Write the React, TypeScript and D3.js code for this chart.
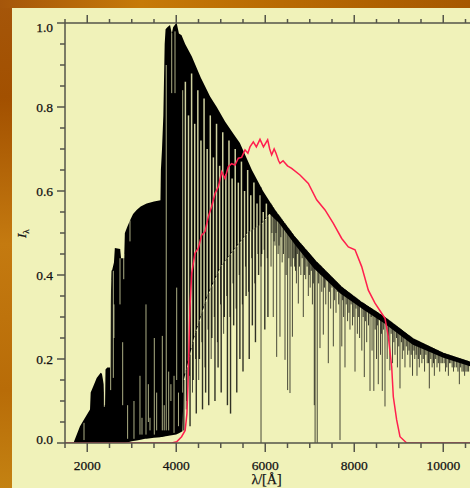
import React from 'react';
import * as d3 from 'd3';

// ---------- data ----------
// upper envelope (continuum top) of the spectrum
const contWl = [1690, 1837, 1950, 2062, 2077, 2136, 2212, 2302, 2330, 2370, 2385, 2400, 2410, 2450, 2515, 2525, 2545, 2560, 2600, 2620, 2740, 2760, 2830, 2845, 2900, 2960, 3030, 3110, 3200, 3335, 3500, 3645, 3655, 3680, 3710, 3740, 3760, 3800, 3860, 3900, 3930, 4000, 4010, 4060, 4120, 4200, 4350, 4550, 4760, 4910, 5100, 5430, 5700, 5950, 6220, 6670, 7120, 7720, 8170, 8690, 9330, 10000, 10600, 11000];
const contFlux = [0, 0.04, 0.06, 0.08, 0.12, 0.135, 0.155, 0.167, 0.165, 0.14, 0.09, 0.09, 0.175, 0.18, 0.18, 0.33, 0.41, 0.412, 0.43, 0.464, 0.462, 0.44, 0.44, 0.5, 0.515, 0.53, 0.545, 0.555, 0.563, 0.57, 0.575, 0.578, 0.65, 0.7, 0.78, 0.95, 0.985, 0.99, 0.995, 0.975, 0.99, 1.0, 1.0, 0.975, 0.971, 0.95, 0.92, 0.87, 0.825, 0.8, 0.765, 0.714, 0.65, 0.6, 0.555, 0.491, 0.436, 0.372, 0.336, 0.3, 0.249, 0.215, 0.194, 0.18];

// lower edge of the solid black part
const floorWl = [1690, 2850, 3000, 3300, 3650, 4000, 4140, 4170, 4400, 4700, 5000, 5300, 5600, 5900, 6100, 6300, 6700, 7100, 7700, 8200, 8700, 9300, 10000, 10600, 11000];
const floorFlux = [0, 0, 0.004, 0.01, 0.014, 0.02, 0.028, 0.15, 0.25, 0.35, 0.42, 0.46, 0.5, 0.52, 0.545, 0.525, 0.468, 0.415, 0.355, 0.318, 0.283, 0.235, 0.203, 0.183, 0.17];

// light gaps inside the dense UV / Balmer part: wavelength, top flux, bottom flux
const gapWl = [1927, 2384, 2526, 2586, 2600, 2736, 2796, 2820, 2907, 2960, 3050, 3185, 3230, 3320, 3373, 3410, 3507, 3560, 3687, 3730, 3775, 3830, 3880, 3898, 3950, 3972, 4010, 4050, 4145];
const gapTop = [0.048, 0.158, 0.388, 0.41, 0.33, 0.44, 0.24, 0.45, 0.09, 0.53, 0.1, 0.16, 0.06, 0.33, 0.14, 0.06, 0.25, 0.12, 0.255, 0.09, 0.9, 0.17, 0.14, 0.976, 0.16, 0.98, 0.37, 0.12, 0.84];
const gapBottom = [0.007, 0.086, 0.126, 0.155, 0.25, 0.33, 0.09, 0.39, 0.01, 0.48, 0.01, 0.02, 0.02, 0.02, 0.05, 0.03, 0.02, 0.03, 0.03, 0.03, 0.03, 0.03, 0.1, 0.833, 0.024, 0.833, 0.15, 0.04, 0.12];

// light gaps in the 4200-6100 A forest: wavelength, top flux (they reach down to the solid part's lower edge)
const forestGapWl = [4205, 4275, 4345, 4415, 4485, 4555, 4625, 4695, 4765, 4835, 4905, 4975, 5045, 5115, 5185, 5255, 5325, 5395, 5465, 5535, 5605, 5675, 5745, 5815, 5885, 5955, 6025, 6095];
const forestGapTop = [0.86, 0.78, 0.88, 0.76, 0.84, 0.72, 0.82, 0.7, 0.78, 0.68, 0.76, 0.66, 0.74, 0.64, 0.72, 0.63, 0.7, 0.62, 0.67, 0.6, 0.65, 0.59, 0.62, 0.57, 0.59, 0.55, 0.57, 0.54];

// deep absorption lines 4150-6100 A: wavelength, line-core flux
const blueLineWl = [4170, 4240, 4310, 4380, 4450, 4520, 4590, 4660, 4730, 4800, 4870, 4940, 5010, 5080, 5150, 5220, 5290, 5360, 5430, 5500, 5570, 5640, 5710, 5780, 5850, 5920, 5990, 6060];
const blueLineFlux = [0.03, 0.1, 0.04, 0.15, 0.07, 0.2, 0.08, 0.12, 0.09, 0.25, 0.1, 0.18, 0.12, 0.3, 0.09, 0.07, 0.28, 0.12, 0.2, 0.17, 0.35, 0.2, 0.28, 0.24, 0.4, 0.45, 0.27, 0.3];

// medium absorption lines 4200-6100 A: wavelength, line-core flux
const midLineWl = [4225, 4295, 4365, 4435, 4505, 4575, 4645, 4715, 4785, 4855, 4925, 4995, 5065, 5135, 5205, 5275, 5345, 5415, 5485, 5555, 5625, 5695, 5765, 5835, 5905, 5975, 6045];
const midLineFlux = [0.08, 0.16, 0.12, 0.2, 0.15, 0.24, 0.18, 0.27, 0.2, 0.3, 0.24, 0.33, 0.26, 0.35, 0.3, 0.38, 0.32, 0.4, 0.33, 0.42, 0.36, 0.44, 0.38, 0.45, 0.42, 0.46, 0.44];

// strong narrow absorption lines: wavelength, line-core flux
const redLineWl = [5905, 6130, 6180, 6220, 6257, 6290, 6331, 6380, 6444, 6470, 6503, 6556, 6610, 6660, 6700, 6743, 6800, 6855, 6910, 6968, 7010, 7060, 7102, 7120, 7168, 7230, 7270, 7305, 7360, 7417, 7470, 7530, 7590, 7680, 7720, 7760, 7792, 7850, 7904, 7960, 8017, 8070, 8120, 8170, 8226, 8280, 8354, 8400, 8440, 8500, 8540, 8590, 8630, 8691, 8740, 8800, 8860, 8916, 8970, 9028, 9080, 9140, 9200, 9253, 9310, 9360, 9410, 9462, 9520, 9580, 9640, 9687, 9750, 9800, 9860, 9920, 9980, 10050, 10115, 10170, 10230, 10300, 10362, 10420, 10480, 10540];
const redLineFlux = [0.0, 0.42, 0.3, 0.47, 0.205, 0.45, 0.253, 0.43, 0.198, 0.4, 0.126, 0.119, 0.253, 0.42, 0.38, 0.332, 0.4, 0.3, 0.39, 0.35, 0.37, 0.33, 0.09, 0.0, 0.0, 0.226, 0.36, 0.258, 0.33, 0.19, 0.32, 0.23, 0.31, 0.007, 0.23, 0.3, 0.18, 0.29, 0.27, 0.28, 0.17, 0.26, 0.25, 0.22, 0.157, 0.24, 0.124, 0.22, 0.124, 0.2, 0.14, 0.21, 0.124, 0.087, 0.2, 0.173, 0.19, 0.21, 0.18, 0.13, 0.2, 0.18, 0.21, 0.18, 0.16, 0.2, 0.16, 0.18, 0.19, 0.17, 0.19, 0.13, 0.18, 0.16, 0.18, 0.17, 0.19, 0.17, 0.16, 0.19, 0.17, 0.18, 0.14, 0.17, 0.16, 0.17];

// weak narrow absorption lines: wavelength, line-core flux
const weakLineWl = [6150, 6200, 6240, 6310, 6350, 6410, 6530, 6580, 6630, 6680, 6720, 6770, 6830, 6880, 6940, 6990, 7035, 7080, 7200, 7250, 7330, 7390, 7440, 7500, 7560, 7620, 7650, 7740, 7820, 7880, 7930, 7990, 8040, 8100, 8200, 8250, 8320, 8380, 8470, 8520, 8610, 8660, 8770, 8830, 8890, 8950, 9000, 9060, 9110, 9170, 9230, 9280, 9340, 9390, 9440, 9490, 9550, 9610, 9670, 9720, 9780, 9830, 9890, 9950, 10020, 10080, 10140, 10200, 10260, 10330, 10390, 10450, 10510, 10570];
const weakLineFlux = [0.5, 0.48, 0.5, 0.47, 0.49, 0.45, 0.44, 0.42, 0.44, 0.41, 0.45, 0.42, 0.44, 0.4, 0.42, 0.4, 0.41, 0.38, 0.38, 0.4, 0.37, 0.39, 0.36, 0.37, 0.34, 0.36, 0.33, 0.34, 0.33, 0.31, 0.33, 0.3, 0.32, 0.3, 0.3, 0.29, 0.28, 0.3, 0.27, 0.28, 0.26, 0.27, 0.25, 0.26, 0.24, 0.25, 0.23, 0.24, 0.22, 0.23, 0.22, 0.21, 0.22, 0.21, 0.2, 0.21, 0.2, 0.21, 0.19, 0.2, 0.19, 0.2, 0.19, 0.19, 0.19, 0.18, 0.19, 0.18, 0.18, 0.17, 0.18, 0.17, 0.17, 0.17];

// filter transmission curve (red)
const filterWl = [1500, 3900, 4010, 4120, 4200, 4240, 4265, 4290, 4309, 4347, 4421, 4496, 4571, 4646, 4721, 4796, 4871, 4946, 5021, 5095, 5170, 5245, 5320, 5395, 5470, 5545, 5610, 5657, 5732, 5800, 5882, 5960, 6054, 6100, 6144, 6200, 6242, 6300, 6331, 6400, 6500, 6593, 6780, 6968, 7155, 7343, 7530, 7718, 7867, 8017, 8167, 8316, 8466, 8616, 8691, 8766, 8841, 8878, 8953, 9028, 9178, 11000];
const filterT = [0, 0, 0.003, 0.015, 0.03, 0.07, 0.14, 0.25, 0.325, 0.404, 0.452, 0.464, 0.495, 0.503, 0.539, 0.563, 0.594, 0.61, 0.646, 0.63, 0.658, 0.665, 0.662, 0.678, 0.68, 0.698, 0.69, 0.705, 0.717, 0.705, 0.723, 0.705, 0.722, 0.7, 0.686, 0.7, 0.69, 0.672, 0.666, 0.672, 0.66, 0.654, 0.638, 0.618, 0.579, 0.555, 0.523, 0.487, 0.467, 0.46, 0.42, 0.364, 0.333, 0.309, 0.297, 0.253, 0.182, 0.11, 0.055, 0.015, 0, 0];

// axes
const xMajorTicks = [2000, 4000, 6000, 8000, 10000];
const xTickLabels = ['2000', '4000', '6000', '8000', '10000'];
const yMajorTicks = [0, 0.2, 0.4, 0.6, 0.8, 1.0];
const yTickLabels = ['0.0', '0.2', '0.4', '0.6', '0.8', '1.0'];
const xLabel = 'λ/[Å]';

// ---------- layout ----------
const W = 470;
const H = 488;
const L = 65;
const T = 23;
const B = 443;

export default function App() {
  const x = d3.scaleLinear().domain([1500, 11000]).range([L, L + 9500 * 0.0445]);
  const y = d3.scaleLinear().domain([0, 1]).range([B, T]);
  const cont = d3.scaleLinear().domain(contWl).range(contFlux).clamp(true);
  const floor = d3.scaleLinear().domain(floorWl).range(floorFlux).clamp(true);

  const allWl = Array.from(new Set([...contWl, ...floorWl])).sort((a, b) => a - b);
  const area = d3
    .area<number>()
    .x((w) => x(w))
    .y0((w) => y(Math.min(floor(w), cont(w))))
    .y1((w) => y(cont(w)))(allWl) as string;

  const filterPath = d3
    .line<number>()
    .x((_, i) => x(filterWl[i]))
    .y((t) => y(t))(filterT) as string;

  const xMinor = d3.range(1500, 10600.1, 500).filter((v) => !xMajorTicks.includes(v));
  const yMinor = d3.range(0, 1.0001, 0.05).filter((v) => !yMajorTicks.some((m) => Math.abs(m - v) < 1e-6));

  const axisColor = '#55554a';
  const font = "'Liberation Serif', 'Times New Roman', serif";
  const gapColor = '#e6e8b0';

  return (
    <svg width={W} height={H} style={{ position: 'absolute', left: 0, top: 0 }}>
      <defs>
        <linearGradient id="topg" x1="0" y1="0" x2="1" y2="0">
          <stop offset="0" stopColor="#a5560a" />
          <stop offset="0.3" stopColor="#c67a08" />
          <stop offset="0.6" stopColor="#b86a02" />
          <stop offset="1" stopColor="#a65800" />
        </linearGradient>
        <linearGradient id="leftg" x1="0" y1="0" x2="0" y2="1">
          <stop offset="0" stopColor="#a5560a" />
          <stop offset="0.2" stopColor="#a25000" />
          <stop offset="0.5" stopColor="#c47a10" />
          <stop offset="0.8" stopColor="#b86c08" />
          <stop offset="1" stopColor="#c48212" />
        </linearGradient>
        <clipPath id="plotclip">
          <rect x={L} y={T - 3} width={W - L} height={B - T + 3} />
        </clipPath>
      </defs>
      <rect x={0} y={0} width={W} height={H} fill="url(#leftg)" />
      <rect x={0} y={0} width={W} height={8} fill="url(#topg)" />
      <rect x={12} y={8} width={W - 12} height={H - 8} fill="#f0f2b9" />

      <g clipPath="url(#plotclip)">
        <path d={area} fill="#000" />
        {gapWl.map((w, i) => (
          <line key={'g' + i} x1={x(w)} x2={x(w)} y1={y(gapTop[i])} y2={y(gapBottom[i])} stroke={gapColor} strokeOpacity={0.75} strokeWidth={1} />
        ))}
        {forestGapWl.map((w, i) => (
          <line key={'fg' + i} x1={x(w)} x2={x(w)} y1={y(forestGapTop[i])} y2={y(floor(w))} stroke={gapColor} strokeOpacity={0.9} strokeWidth={1.5} />
        ))}
        {blueLineWl.map((w, i) => (
          <line key={'b' + i} x1={x(w)} x2={x(w)} y1={y(floor(w))} y2={y(blueLineFlux[i])} stroke="#000" strokeOpacity={0.8} strokeWidth={1.4} />
        ))}
        {midLineWl.map((w, i) => (
          <line key={'m' + i} x1={x(w)} x2={x(w)} y1={y(floor(w))} y2={y(midLineFlux[i])} stroke="#000" strokeOpacity={0.7} strokeWidth={1} />
        ))}
        {weakLineWl.map((w, i) => (
          <line key={'w' + i} x1={x(w)} x2={x(w)} y1={y(cont(w))} y2={y(weakLineFlux[i])} stroke="#000" strokeOpacity={0.75} strokeWidth={1} />
        ))}
        {redLineWl.map((w, i) => (
          <line key={'r' + i} x1={x(w)} x2={x(w)} y1={y(cont(w))} y2={y(redLineFlux[i])} stroke="#000" strokeOpacity={0.7} strokeWidth={1} />
        ))}
        <path d={filterPath} fill="none" stroke="#ff1f4e" strokeWidth={1.5} />
      </g>

      {/* axes */}
      <g stroke={axisColor} strokeWidth={1.5} fill="none">
        <line x1={L} x2={W} y1={T} y2={T} />
        <line x1={L} x2={W} y1={B} y2={B} />
        <line x1={L} x2={L} y1={T} y2={B} />
        {xMajorTicks.map((v) => (
          <g key={'xm' + v}>
            <line x1={x(v)} x2={x(v)} y1={B} y2={B + 9} />
            <line x1={x(v)} x2={x(v)} y1={T} y2={T - 8} />
          </g>
        ))}
        {xMinor.map((v) => (
          <g key={'xn' + v}>
            <line x1={x(v)} x2={x(v)} y1={B} y2={B + 5} />
            <line x1={x(v)} x2={x(v)} y1={T} y2={T - 4} />
          </g>
        ))}
        {yMajorTicks.map((v) => (
          <line key={'ym' + v} x1={L} x2={L - 8} y1={y(v)} y2={y(v)} />
        ))}
        {yMinor.map((v) => (
          <line key={'yn' + v} x1={L} x2={L - 5} y1={y(v)} y2={y(v)} />
        ))}
      </g>

      <g fontFamily={font} fontSize={13.5} fill="#111" stroke="#111" strokeWidth={0.25}>
        {xMajorTicks.map((v, i) => (
          <text key={'xl' + v} x={x(v)} y={469.5} textAnchor="middle">
            {xTickLabels[i]}
          </text>
        ))}
        {yMajorTicks.map((v, i) => (
          <text key={'yl' + v} x={53} y={Math.min(Math.max(y(v) + 4.5, 31.7), 444)} textAnchor="end">
            {yTickLabels[i]}
          </text>
        ))}
        <text x={266.5} y={484} textAnchor="middle" fontSize={14}>
          {xLabel}
        </text>
        <text transform="translate(26,238) rotate(-90)" fontStyle="italic" fontSize={13}>
          I
          <tspan fontStyle="normal" fontSize={9} dy={3}>
            λ
          </tspan>
        </text>
      </g>
    </svg>
  );
}
